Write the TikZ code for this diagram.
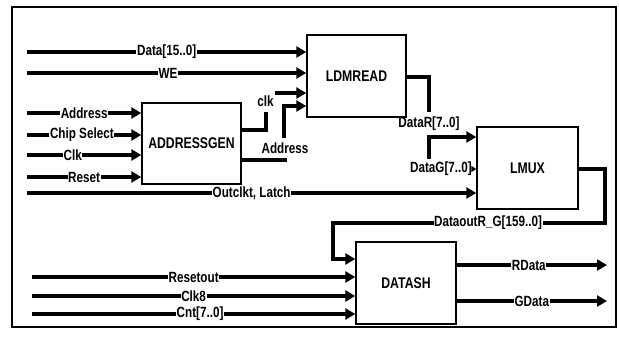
\documentclass[tikz,border=0pt]{standalone}
\usepackage{fontspec}
\setmainfont{Liberation Sans}[FakeStretch=0.79]
\usetikzlibrary{arrows.meta}
\begin{document}
\begin{tikzpicture}[x=1pt,y=-1pt,
 bus/.style={line width=3.8pt},
 busarrow/.style={bus,-{Triangle[length=10pt,width=11pt]}},
 thinarrow/.style={line width=1pt,-{Triangle[length=5pt,width=6pt]}},
 blk/.style={draw,line width=1.4pt,rectangle,inner sep=0pt,font=\fontsize{15.5}{17}\selectfont\bfseries},
 lbl/.style={fill=white,inner sep=0.6pt,font=\fontsize{14.8}{16}\selectfont\bfseries},
 tag/.style={inner sep=0.6pt,font=\fontsize{14.8}{16}\selectfont\bfseries},
]
\useasboundingbox (0,0) rectangle (619,338);
\draw[line width=1.2pt] (12,7) rectangle (616,327);

% blocks
\node[blk,minimum width=99pt,minimum height=82pt] (ldm) at (356.5,76) {LDMREAD};
\node[blk,minimum width=99pt,minimum height=81pt] (ag) at (191.5,143.5) {ADDRESSGEN};
\node[blk,minimum width=101pt,minimum height=82pt] (lmux) at (527.5,168) {LMUX};
\node[blk,minimum width=100pt,minimum height=82pt] (dsh) at (406,283) {DATASH};

% inputs of LDMREAD
\coordinate (iData) at (27,52);
\coordinate (iWE) at (27,73);
\draw[busarrow] (iData) -- node[lbl,pos=0.5] (lData) {Data[15..0]} (iData -| ldm.west);
\draw[busarrow] (iWE) -- node[lbl,pos=0.505] (lWE) {WE} (iWE -| ldm.west);

% inputs of ADDRESSGEN
\coordinate (iAddr) at (27,113);
\coordinate (iCS) at (27,135);
\coordinate (iClk) at (27,155);
\coordinate (iRst) at (27,177);
\draw[busarrow] (iAddr) -- node[lbl,pos=0.5] (lAddr) {Address} (iAddr -| ag.west);
\draw[busarrow] (iCS) -- node[lbl,pos=0.48] (lCS) {Chip Select} (iCS -| ag.west);
\draw[busarrow] (iClk) -- node[lbl,pos=0.4] (lClk) {Clk} (iClk -| ag.west);
\draw[busarrow] (iRst) -- node[lbl,pos=0.5] (lRst) {Reset} (iRst -| ag.west);

% ADDRESSGEN -> LDMREAD
\coordinate (clkTop) at (266,112);
\draw[bus] (ag.east |- 0,130) -| (clkTop);
\node[tag] (lclk) at (265.5,101) {clk};
\coordinate (clkIn) at (275,93);
\draw[busarrow] (clkIn) -- (clkIn -| ldm.west);
\coordinate (addrEnd) at (287,160);
\draw[bus] (ag.east |- addrEnd) -- (addrEnd);
\node[tag] (laddr) at (285,148) {Address};
\coordinate (addrUp) at (284,138);
\draw[busarrow] (addrUp) |- (ldm.west |- 0,106);

% Outclkt, Latch
\coordinate (iOut) at (27,193);
\draw[busarrow] (iOut) -- node[lbl,pos=0.5] (lOut) {Outclkt, Latch} (iOut -| lmux.west);

% LDMREAD -> LMUX
\coordinate (drEnd) at (429,112);
\draw[bus] (ldm.east |- 0,77) -| (drEnd);
\node[tag] (ldr) at (429,124) {DataR[7..0]};
\coordinate (dgStart) at (429,159);
\draw[busarrow] (dgStart) |- (lmux.west |- 0,137);
\node[tag] (ldg) at (441,169) {DataG[7..0]};
\draw[thinarrow] (ldg.east) -- (ldg.east -| lmux.west);

% LMUX -> DATASH
\draw[busarrow] (lmux.east |- 0,169) -- (605,169) -- (605,223)
  -- node[lbl,pos=0.43] (ldo) {DataoutR\_G[159..0]} (333,223) -- (333,259) -- (dsh.west |- 0,259);

% inputs of DATASH
\coordinate (iRo) at (32,277);
\coordinate (iC8) at (32,296);
\coordinate (iCnt) at (32,314);
\draw[busarrow] (iRo) -- node[lbl,pos=0.5] (lRo) {Resetout} (iRo -| dsh.west);
\draw[busarrow] (iC8) -- node[lbl,pos=0.5] (lC8) {Clk8} (iC8 -| dsh.west);
\draw[busarrow] (iCnt) -- node[lbl,pos=0.52] (lCnt) {Cnt[7..0]} (iCnt -| dsh.west);

% outputs of DATASH
\coordinate (oR) at (607,265);
\coordinate (oG) at (607,301);
\draw[busarrow] (dsh.east |- oR) -- node[lbl,pos=0.48] (lR) {RData} (oR);
\draw[busarrow] (dsh.east |- oG) -- node[lbl,pos=0.5] (lG) {GData} (oG);
\end{tikzpicture}
\end{document}
